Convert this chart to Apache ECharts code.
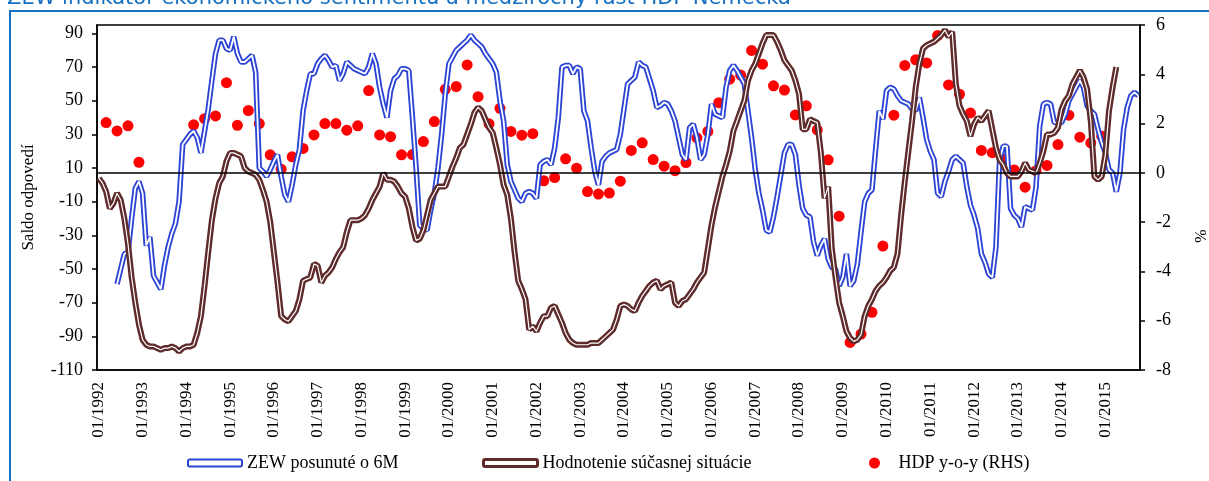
<!DOCTYPE html>
<html><head><meta charset="utf-8">
<script src="https://cdn.jsdelivr.net/npm/echarts@6/dist/echarts.min.js"></script>
<style>html,body{margin:0;padding:0;background:#fff}#c{width:1209px;height:481px}</style>
</head><body><div id="c"></div>
<script>
// Monthly categories 01/1992 .. 10/2015
const startYear = 1992;
const monthCount = 286;
const categories = [];
for (let i = 0; i < monthCount; i++) {
  const y = startYear + Math.floor(i / 12), mo = i % 12 + 1;
  categories.push((mo < 10 ? '0' : '') + mo + '/' + y);
}

// ZEW posunuté o 6M (left axis, monthly)
const zew = [
  null,null,null,null,null,-59,-50,-41,-40,-20,
  -2,2,-5,-36,-31,-54,-58,-62,-48,-37,
  -29,-23,-10,24,27,30,32,28,19,32,
  45,62,78,86,86,81,80,88,78,73,
  73,75,77,67,10,8,5,9,14,18,
  5,-6,-10,0,12,21,44,56,66,66,
  72,75,77,74,70,71,62,66,73,71,
  69,68,67,66,70,78,72,58,48,40,56,
  63,65,69,69,68,40,10,-24,-26,-27,
  -15,-5,10,30,54,72,76,80,82,84,
  86,89,86,84,82,78,75,72,67,50,
  38,12,2,-3,-8,-10,-5,-4,-5,-8,
  12,14,15,12,22,40,70,71,71,66,
  70,69,44,38,22,8,0,14,17,19,
  20,21,30,45,60,62,64,73,71,70,
  63,56,46,47,49,48,44,38,28,18,
  15,34,36,28,15,18,30,48,42,41,
  40,58,68,71,68,64,60,44,28,9,
  -5,-15,-27,-28,-19,-7,6,19,24,24,
  18,0,-14,-18,-19,-34,-42,-36,-32,-44,
  -49,-50,-60,-55,-41,-60,-57,-47,-28,-10,
  -5,-3,21,44,39,56,58,57,53,50,49,
  48,45,44,52,40,27,20,15,-5,-7,
  2,8,15,17,15,13,-1,-12,-18,-26,
  -41,-46,-53,-55,-37,15,23,23,-14,-18,
  -20,-25,-13,-14,-15,-1,35,48,49,48,
  37,37,37,42,50,54,58,62,58,47,
  44,42,33,25,19,9,7,-4,7,33,
  46,53,55,53
];

// Hodnotenie súčasnej situácie (left axis, monthly)
const hodnotenie = [
  4,1,-4,-14,-11,-5,-9,-20,-35,-55,
  -70,-83,-92,-95,-96,-96,-97,-98,-97,-97,
  -96,-97,-99,-97,-96,-96,-95,-88,-78,-60,
  -40,-21,-8,1,5,14,19,19,18,17,
  10,8,7,6,3,-3,-10,-22,-40,-58,
  -78,-80,-81,-78,-75,-68,-57,-56,-55,-47,
  -48,-58,-54,-52,-49,-44,-40,-37,-28,-21,
  -21,-21,-20,-18,-14,-9,-5,-1,7,3,3,
  2,-1,-5,-7,-14,-25,-33,-32,-27,-18,
  -9,-5,-1,-1,-1,5,11,16,22,24,
  30,36,43,46,44,39,34,31,22,12,
  0,-6,-20,-40,-57,-62,-68,-86,-84,-87,
  -82,-78,-78,-73,-72,-77,-82,-88,-92,-94,
  -95,-95,-95,-95,-94,-94,-94,-92,-90,-88,
  -86,-80,-72,-71,-72,-74,-75,-70,-66,-63,
  -60,-58,-57,-62,-60,-59,-58,-70,-72,-69,
  -68,-65,-62,-58,-55,-52,-38,-24,-13,-4,
  5,12,20,32,38,44,50,62,68,72,
  78,84,89,89,89,85,80,74,71,68,
  62,54,33,33,39,38,37,19,-8,-1,
  -38,-55,-70,-78,-87,-91,-93,-92,-89,-78,
  -72,-68,-63,-60,-58,-55,-51,-49,-41,-18,2,
  20,38,58,72,81,83,84,85,87,89,
  92,88,91,60,47,42,38,29,36,40,
  38,41,44,33,22,15,12,7,5,5,
  5,8,13,9,8,7,13,20,30,30,
  31,34,45,50,53,60,64,68,64,57,
  38,5,3,5,18,44,58,70
];

// HDP y-o-y (right axis, quarterly: Q1 1992 .. Q4 2014)
const hdpQuarterly = [
  2.04,1.70,1.91,0.43,null,null,null,null,
  1.95,2.20,2.31,3.66,1.93,2.53,2.0,0.73,0.15,0.65,
  0.99,1.54,2.0,2.0,1.73,1.91,3.34,1.54,1.47,0.73,
  0.74,1.27,2.08,3.39,3.5,4.38,3.09,1.99,2.62,1.68,
  1.53,1.59,-0.32,-0.19,0.57,0.19,-0.76,-0.86,-0.82,-0.34,
  0.91,1.22,0.54,0.27,0.09,0.42,1.42,1.68,2.85,3.80,
  3.97,4.97,4.41,3.53,3.36,2.35,2.72,1.74,0.53,-1.76,
  -6.88,-6.54,-5.66,-2.97,2.34,4.36,4.59,4.46,5.57,3.57,
  3.19,2.43,0.91,0.82,0.55,0.12,-0.58,0.09,0.30,1.15,
  2.34,1.45,1.22,1.49
];

const BLUE = '#2B44D4', BROWN = '#5E2A2A', RED = '#FF0000', FRAME = '#1670C2';
const serif = 'Liberation Serif, Times New Roman, serif';

const hdpPoints = [];
hdpQuarterly.forEach((v, i) => { if (v !== null) hdpPoints.push([3 * i + 2, v]); });

const chart = echarts.init(document.getElementById('c'), null, {renderer: 'canvas'});
const legendBase = {
  orient: 'horizontal', top: 454, itemHeight: 7, itemWidth: 54, itemGap: 0, padding: 0,
  selectedMode: false,
  textStyle: {fontFamily: serif, fontSize: 18, color: '#000'}
};
chart.setOption({
  animation: false,
  backgroundColor: '#fff',
  graphic: [
    {type: 'polyline', silent: true, shape: {points: [[10, 481], [10, 11], [1209, 11]]},
     style: {stroke: FRAME, lineWidth: 2, fill: null}},
    {type: 'text', left: 7, top: -12, silent: true,
     style: {text: 'ZEW indikátor ekonomického sentimentu a medziročný rast HDP Nemecka',
             font: '21px "DejaVu Sans", Verdana, sans-serif', fill: FRAME}},
    {type: 'text', x: 1202, y: 236, rotation: Math.PI / 2, silent: true,
     style: {text: '%', font: '16px ' + serif, fill: '#000', align: 'center', verticalAlign: 'middle'}}
  ],
  legend: [
    Object.assign({}, legendBase, {left: 187, data: [{name: 'ZEW posunuté o 6M', icon: 'roundRect',
      itemStyle: {color: '#fff', borderColor: BLUE, borderWidth: 2}}]}),
    Object.assign({}, legendBase, {left: 482, data: [{name: 'Hodnotenie súčasnej situácie', icon: 'roundRect',
      itemStyle: {color: '#fff', borderColor: BROWN, borderWidth: 3}}]}),
    Object.assign({}, legendBase, {left: 869, itemWidth: 38, itemHeight: 11,
      data: [{name: 'HDP y-o-y (RHS)', icon: 'circle', itemStyle: {color: RED}}]})
  ],
  grid: {left: 97, right: 69, top: 25, bottom: 111, show: true, borderColor: '#000', borderWidth: 1.5,
         backgroundColor: 'transparent'},
  xAxis: {
    type: 'category', data: categories, boundaryGap: true,
    axisLine: {onZero: false, lineStyle: {color: '#000', width: 1.5}},
    axisTick: {show: false},
    axisLabel: {interval: (idx) => idx % 12 === 0, rotate: 90, fontFamily: serif, fontSize: 17,
                color: '#000', margin: 12},
    splitLine: {show: false}
  },
  yAxis: [
    {type: 'value', position: 'left', min: -110, max: 95, interval: 20,
     axisLine: {show: true, lineStyle: {color: '#000', width: 1.5}},
     axisTick: {show: true, length: 5, lineStyle: {color: '#000', width: 1.5}},
     axisLabel: {fontFamily: serif, fontSize: 18, color: '#000', margin: 14, showMaxLabel: false},
     splitLine: {show: false},
     name: 'Saldo odpovedí', nameLocation: 'middle', nameRotate: 90, nameGap: 60,
     nameTextStyle: {fontFamily: serif, fontSize: 17, color: '#000'}},
    {type: 'value', position: 'right', min: -8, max: 6, interval: 2,
     axisLine: {show: true, lineStyle: {color: '#000', width: 1.5}},
     axisTick: {show: true, length: 5, lineStyle: {color: '#000', width: 1.5}},
     axisLabel: {fontFamily: serif, fontSize: 18, color: '#000', margin: 16},
     splitLine: {show: false}}
  ],
  series: [
    {name: '_zero', type: 'line', yAxisIndex: 1, data: [], silent: true,
     markLine: {silent: true, symbol: ['none', 'none'], label: {show: false},
                lineStyle: {color: '#000', width: 1.5, type: 'solid'}, data: [{yAxis: 0}]}},
    {name: 'ZEW posunuté o 6M', type: 'line', yAxisIndex: 0, data: zew, symbol: 'none',
     lineStyle: {color: BLUE, width: 5.5}, itemStyle: {color: BLUE}},
    {name: '_zewInner', type: 'line', yAxisIndex: 0, data: zew, symbol: 'none', silent: true,
     lineStyle: {color: '#fff', width: 1.8}},
    {name: 'Hodnotenie súčasnej situácie', type: 'line', yAxisIndex: 0, data: hodnotenie, symbol: 'none',
     lineStyle: {color: BROWN, width: 6}, itemStyle: {color: BROWN}},
    {name: '_hodInner', type: 'line', yAxisIndex: 0, data: hodnotenie, symbol: 'none', silent: true,
     lineStyle: {color: '#fff', width: 1.2}},
    {name: 'HDP y-o-y (RHS)', type: 'scatter', yAxisIndex: 1, data: hdpPoints, symbolSize: 11,
     itemStyle: {color: RED, opacity: 1}}
  ]
});
</script>
</body></html>
